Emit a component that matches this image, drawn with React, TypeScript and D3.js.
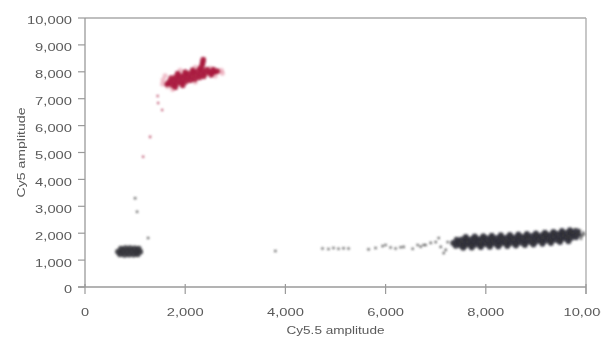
import React from "react";
import * as d3 from "d3";

const xTicks = [0, 2000, 4000, 6000, 8000, 10000];
const yTicks = [0, 1000, 2000, 3000, 4000, 5000, 6000, 7000, 8000, 9000, 10000];
const xTitle = "Cy5.5 amplitude";
const yTitle = "Cy5 amplitude";

// Large black cluster (Cy5.5 positive)
const bigCluster: [number, number][] = [
  [7350,1640],[7450,1652],[7550,1655],[7650,1668],[7750,1672],[7850,1680],[7950,1692],[8050,1695],[8150,1706],[8250,1712],[8350,1720],[8450,1730],[8550,1738],[8650,1750],[8750,1762],[8850,1772],[8950,1788],[9050,1800],[9150,1818],[9250,1835],[9350,1852],[9450,1870],[9550,1890],[9650,1915],[9750,1940],[9850,1965],
  [7420,1760],[7520,1770],[7620,1775],[7720,1785],[7820,1792],[7920,1800],[8020,1808],[8120,1815],[8220,1825],[8320,1830],[8420,1842],[8520,1850],[8620,1858],[8720,1870],[8820,1882],[8920,1895],[9020,1905],[9120,1925],[9220,1940],[9320,1958],[9420,1975],[9520,1995],[9620,2020],[9720,2045],[9820,2070],
  [7400,1535],[7500,1545],[7600,1555],[7700,1560],[7800,1568],[7900,1575],[8000,1585],[8100,1592],[8200,1600],[8300,1605],[8400,1615],[8500,1625],[8600,1632],[8700,1645],[8800,1655],[8900,1668],[9000,1680],[9100,1700],[9200,1715],[9300,1732],[9400,1750],[9500,1770],[9600,1795],[9700,1820],[9800,1845],
  [7600,1860],[7780,1875],[7950,1890],[8120,1905],[8300,1920],[8480,1935],[8650,1950],[8820,1970],[9000,1990],[9180,2015],[9350,2045],[9520,2080],[9680,2110],
  [7550,1460],[7720,1470],[7900,1485],[8080,1495],[8250,1510],[8430,1520],[8600,1540],[8780,1560],[8950,1580],[9130,1605],[9300,1640],[9480,1670],[9650,1705],
];

// Small black cluster (double negative)
const smallCluster: [number, number][] = [
  [660,1310],[750,1320],[840,1325],[930,1330],[1020,1320],[1100,1315],
  [720,1420],[810,1440],[900,1445],[990,1435],[1070,1420],
  [700,1215],[790,1200],[880,1205],[970,1210],[1050,1220],
];

// Red cluster (Cy5 positive)
const redCluster: [number, number][] = [
  [1680,7620],[1770,7650],[1860,7700],[1950,7740],[2040,7790],[2130,7830],[2220,7880],[2310,7920],[2400,7950],[2490,7975],[2580,7990],
  [1720,7760],[1810,7800],[1900,7840],[1990,7880],[2080,7930],[2170,7980],[2260,8030],[2350,8060],[2440,8080],
  [1740,7510],[1830,7560],[1920,7600],[2010,7640],[2100,7690],[2190,7720],[2280,7790],[2370,7830],
  [1850,7930],[2000,7990],[2150,8060],[2300,8140],
  [2340,8250],[2350,8350],[2360,8450],
  [1800,7430],[1950,7500],
  [2640,8020],[2560,8080],[2520,7890],[1640,7540],
];

const redHalo: [number, number][] = [
  [1560,7700],[1600,7850],[1650,7450],[1900,8050],[2200,8170],[2500,8130],[2720,8050],[2740,7950],[2600,7850],[2200,7620],[1750,7350],[1550,7550],
];

const redTrail: [number, number][] = [
  [1450,7100],[1460,6840],[1540,6580],[1300,5580],[1160,4840],
];

// Sparse grey droplets
const scatterPoints: [number, number][] = [
  [1000,3300],[1040,2800],[1260,1820],
  [3800,1340],[4740,1430],[4860,1410],[4960,1450],[5060,1420],[5160,1440],[5260,1430],[5660,1400],[5800,1450],[5940,1520],[6000,1560],[6100,1470],[6200,1430],[6300,1480],[6540,1420],[6700,1500],[6760,1560],
  [6360,1490],[6640,1560],[6800,1560],[6900,1640],[7000,1670],[7100,1490],[7160,1260],[7240,1670],[7060,1820],[7200,1380],
  [9880,2100],[9920,1900],[9950,2020],[9900,1800],[9780,2150],[9960,1950],
];

const fmt = d3.format(",");

export default function App() {
  const W = 601, H = 338;
  const x = d3.scaleLinear().domain([0, 10000]).range([85, 586]);
  const y = d3.scaleLinear().domain([0, 10000]).range([287, 18]);
  const axisColor = "#9a9a9a";
  const textColor = "#5a5a5a";
  const font = "'Liberation Sans', Arial, sans-serif";
  const labelLen = (s: string) => {
    let n = 0;
    for (const c of s) n += c === "," ? 4.5 : 8.1;
    return n;
  };

  return (
    <svg width={W} height={H} style={{ position: "absolute", left: 0, top: 0, background: "#fff" }}>
      <defs>
        <filter id="soft" x="-10%" y="-10%" width="120%" height="120%">
          <feGaussianBlur stdDeviation={0.8} />
        </filter>
        <filter id="softText">
          <feGaussianBlur stdDeviation={0.35} />
        </filter>
      </defs>
      {/* frame */}
      <line x1={x(0)} x2={x(10000)} y1={y(10000)} y2={y(10000)} stroke="#aaa" strokeWidth={1.3} />
      <line x1={x(10000)} x2={x(10000)} y1={y(10000)} y2={y(0) + 7} stroke="#aaa" strokeWidth={1.3} />
      <line x1={x(0)} x2={x(0)} y1={y(10000)} y2={y(0)} stroke={axisColor} strokeWidth={1.3} />
      <line x1={x(0) - 7} x2={x(10000)} y1={y(0)} y2={y(0)} stroke={axisColor} strokeWidth={1.3} />

      <g filter="url(#softText)">
        {yTicks.map((t) => (
          <g key={"y" + t}>
            <line x1={x(0) - 7} x2={x(0)} y1={y(t)} y2={y(t)} stroke={axisColor} strokeWidth={1.2} />
            <text
              x={72}
              y={y(t) + 3.5}
              dominantBaseline="middle"
              textAnchor="end"
              fontFamily={font}
              fontSize={11}
              fill={textColor}
              textLength={labelLen(fmt(t))}
              lengthAdjust="spacingAndGlyphs"
            >
              {fmt(t)}
            </text>
          </g>
        ))}
        {xTicks.map((t) => (
          <g key={"x" + t}>
            <line x1={x(t)} x2={x(t)} y1={y(0) - 3} y2={y(0) + 7} stroke={axisColor} strokeWidth={1.2} />
            <text
              x={x(t)}
              y={313}
              dominantBaseline="middle"
              textAnchor="middle"
              fontFamily={font}
              fontSize={11}
              fill={textColor}
              textLength={labelLen(fmt(t))}
              lengthAdjust="spacingAndGlyphs"
            >
              {fmt(t)}
            </text>
          </g>
        ))}
        <text
          x={(x(0) + x(10000)) / 2}
          y={331}
          dominantBaseline="middle"
          textAnchor="middle"
          fontFamily={font}
          fontSize={11}
          fill={textColor}
          textLength={98}
          lengthAdjust="spacingAndGlyphs"
        >
          {xTitle}
        </text>
        <text
          transform={`translate(22,${(y(0) + y(10000)) / 2}) rotate(-90)`}
          dominantBaseline="middle"
          textAnchor="middle"
          fontFamily={font}
          fontSize={11}
          fill={textColor}
          textLength={90}
          lengthAdjust="spacingAndGlyphs"
        >
          {yTitle}
        </text>
      </g>

      {/* points */}
      <g filter="url(#soft)">
        {scatterPoints.map((d, i) => (
          <circle key={"s" + i} cx={x(d[0])} cy={y(d[1])} r={1.3} fill="#444" opacity={0.85} />
        ))}
        {redHalo.map((d, i) => (
          <circle key={"h" + i} cx={x(d[0])} cy={y(d[1])} r={2.6} fill="#e07a92" opacity={0.45} />
        ))}
        {redTrail.map((d, i) => (
          <circle key={"t" + i} cx={x(d[0])} cy={y(d[1])} r={1.3} fill="#b03050" opacity={0.75} />
        ))}
        {bigCluster.map((d, i) => (
          <circle key={"b" + i} cx={x(d[0])} cy={y(d[1])} r={3.0} fill="#2e2e36" opacity={0.9} />
        ))}
        {smallCluster.map((d, i) => (
          <circle key={"c" + i} cx={x(d[0])} cy={y(d[1])} r={3.0} fill="#34343a" opacity={0.9} />
        ))}
        {redCluster.map((d, i) => (
          <circle key={"r" + i} cx={x(d[0])} cy={y(d[1])} r={2.9} fill="#a8163c" opacity={0.9} />
        ))}
      </g>
    </svg>
  );
}
